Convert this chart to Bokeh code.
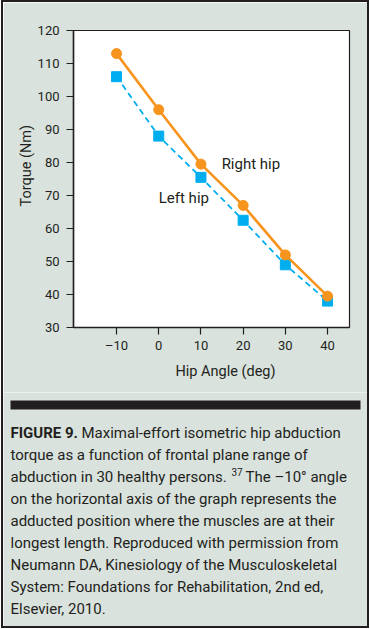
from bokeh.plotting import figure
from bokeh.models import Range1d, FixedTicker, Label, BoxAnnotation, Title
from bokeh.layouts import column
from bokeh.embed import file_html
from bokeh.resources import INLINE

# ---- data ----
angles = [-10, 0, 10, 20, 30, 40]
right_hip = [113, 96, 79.5, 67, 52, 39.5]
left_hip = [106, 88, 75.5, 62.5, 49, 38]
x_ticks = [-10, 0, 10, 20, 30, 40]
y_ticks = [30, 40, 50, 60, 70, 80, 90, 100, 110, 120]
x_tick_labels = ["–10", "0", "10", "20", "30", "40"]
series_names = ["Right hip", "Left hip"]
x_title = "Hip Angle (deg)"
y_title = "Torque (Nm)"
caption_bold = "FIGURE 9."
caption_lines = [
    "Maximal-effort isometric hip abduction",
    "torque as a function of frontal plane range of",
    "abduction in 30 healthy persons.",
    "on the horizontal axis of the graph represents the",
    "adducted position where the muscles are at their",
    "longest length. Reproduced with permission from",
    "Neumann DA, Kinesiology of the Musculoskeletal",
    "System: Foundations for Rehabilitation, 2nd ed,",
    "Elsevier, 2010.",
]
caption_sup = "37"
caption_after_sup = "The –10° angle"

# ---- style ----
W = 364
H_TOP, H_CAP = 390, 234
BG = "#d9e2dd"
INK = "#231f20"
ORANGE = "#f7941d"
BLUE = "#00aeef"
FONT = "Roboto"

p = figure(width=W, height=H_TOP, output_backend="svg", toolbar_location=None,
           x_range=Range1d(-20.2, 45.2), y_range=Range1d(30, 120),
           min_border_left=70, min_border_right=18, min_border_top=28,
           min_border_bottom=65, frame_align=False,
           background_fill_color="white", border_fill_color=BG)
p.grid.visible = False
p.outline_line_color = INK
p.outline_line_width = 1.2

for ax in (p.xaxis[0], p.yaxis[0]):
    ax.axis_line_color = INK
    ax.axis_line_width = 1.5
    ax.major_tick_line_color = INK
    ax.major_tick_line_width = 1.2
    ax.major_tick_out = 7
    ax.major_tick_in = 0
    ax.minor_tick_line_color = None
    ax.major_label_text_font = FONT
    ax.major_label_text_font_size = "13px"
    ax.major_label_text_color = INK

p.xaxis.ticker = FixedTicker(ticks=x_ticks)
p.xaxis.major_label_overrides = {t: s for t, s in zip(x_ticks, x_tick_labels)}
p.xaxis.major_label_standoff = 3
p.yaxis.ticker = FixedTicker(ticks=y_ticks)
p.yaxis.major_label_standoff = 7

p.add_layout(Title(text=x_title, align="left", offset=102, standoff=11,
                   text_font=FONT, text_font_size="14.5px", text_font_style="normal",
                   text_color=INK), "below")
p.add_layout(Title(text=y_title, align="left", offset=121, standoff=0,
                   text_font=FONT, text_font_size="14.5px", text_font_style="normal",
                   text_color=INK), "left")

# series
p.line(angles, left_hip, line_color=BLUE, line_width=1.8, line_dash="6 4")
p.scatter(angles, left_hip, marker="square", size=10, fill_color=BLUE, line_color=BLUE)
p.line(angles, right_hip, line_color=ORANGE, line_width=2.6)
p.scatter(angles, right_hip, marker="circle", size=10, fill_color=ORANGE, line_color=ORANGE)

p.add_layout(Label(x=14.9, y=79.6, text=series_names[0], text_font=FONT,
                   text_font_size="15px", text_color=INK, text_baseline="middle"))
p.add_layout(Label(x=0, y=69.2, text=series_names[1], text_font=FONT,
                   text_font_size="15px", text_color=INK, text_baseline="middle"))

# ---- caption panel (pixel-like ranges, y downwards) ----
c = figure(width=W, height=H_CAP, output_backend="svg", toolbar_location=None,
           x_range=Range1d(0, W), y_range=Range1d(H_CAP, 0),
           x_axis_location=None, y_axis_location=None, frame_align=False,
           min_border_left=0, min_border_right=0, min_border_top=0, min_border_bottom=0,
           background_fill_color=BG, border_fill_color=BG)
c.grid.visible = False
c.outline_line_color = None

c.add_layout(BoxAnnotation(left=7, right=357, top=8, bottom=17,
                           fill_color=INK, fill_alpha=1, line_color=None))

y0, dy = 40, 22.1
CAP = "15px"
c.add_layout(Label(x=7, y=y0, text=caption_bold, text_font=FONT, text_font_size=CAP,
                   text_font_style="bold", text_color=INK, text_baseline="middle"))
for i, line in enumerate(caption_lines):
    x = 78 if i == 0 else 7
    c.add_layout(Label(x=x, y=y0 + i * dy, text=line, text_font=FONT,
                       text_font_size=CAP, text_color=INK, text_baseline="middle"))
c.add_layout(Label(x=228, y=y0 + 2 * dy - 5, text=caption_sup, text_font=FONT,
                   text_font_size="10px", text_color=INK, text_baseline="middle"))
c.add_layout(Label(x=242, y=y0 + 2 * dy, text=caption_after_sup, text_font=FONT,
                   text_font_size=CAP, text_color=INK, text_baseline="middle"))

layout = column(p, c, spacing=0,
                styles={"border": "2px solid #231f20", "margin": "0 0 0 1px"})

open("out.html", "w").write(file_html(layout, INLINE))
